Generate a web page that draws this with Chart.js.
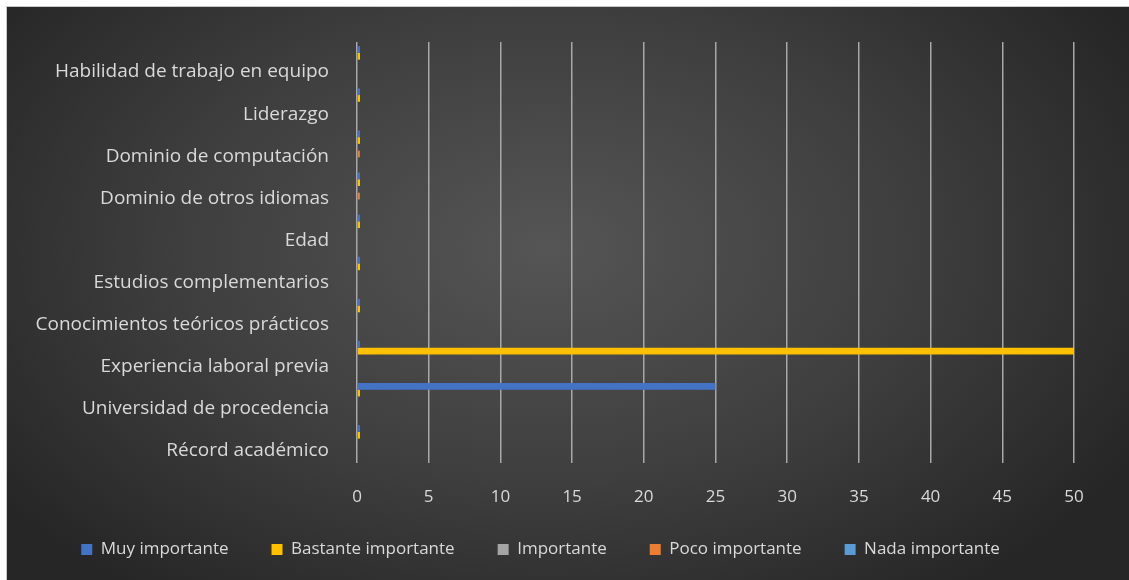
<!DOCTYPE html>
<html>
<head>
<meta charset="utf-8">
<script src="https://cdn.jsdelivr.net/npm/chart.js@4.4.0/dist/chart.umd.min.js"></script>
<style>
  html, body { margin: 0; padding: 0; background: #ffffff; }
  #frame {
    position: absolute; left: 6px; top: 6px; width: 1122px; height: 574px;
    border-left: 1px solid #c8c8c8; border-top: 1px solid #c8c8c8; border-right: 1px solid #c8c8c8;
    background: radial-gradient(ellipse 60% 75% at 48% 42%, #555555 0%, #3e3e3e 55%, #262626 100%);
  }
  #chart { display: block; }
</style>
</head>
<body>
<div id="frame"><canvas id="chart" width="1122" height="574"></canvas></div>
<script>
// ============ DATA ============ //
// categories, top to bottom as they appear
const categories = [
  "Habilidad de trabajo en equipo",
  "Liderazgo",
  "Dominio de computación",
  "Dominio de otros idiomas",
  "Edad",
  "Estudios complementarios",
  "Conocimientos teóricos prácticos",
  "Experiencia laboral previa",
  "Universidad de procedencia",
  "Récord académico"
];

const muyImportante      = [0, 0, 0, 0, 0, 0, 0, 0, 25, 0];
const bastanteImportante = [0, 0, 0, 0, 0, 0, 0, 50, 0, 0];
const importante         = [0, 0, 0, 0, 0, 0, 0, 0, 0, 0];
const pocoImportante     = [0, 0, 0.2, 0.2, 0, 0, 0, 0, 0, 0];
const nadaImportante     = [0, 0, 0, 0, 0, 0, 0, 0, 0, 0];

const xTicks = [0, 5, 10, 15, 20, 25, 30, 35, 40, 45, 50];

// ============ CHART ============ //
const textColor = "#d9d9d9";
const fontFamily = "'Open Sans', 'Noto Sans', sans-serif";

const canvas = document.getElementById("chart");

// pull the legend rows up a little so the x tick labels get room in their own box
const legendShift = {
  id: "legendShift",
  afterLayout(chart) {
    const lg = chart.legend;
    if (lg) {
      lg.top -= 11;
      lg.bottom -= 11;
    }
  }
};

let chart = new Chart(canvas, {
  type: "bar",
  data: {
    labels: categories,
    datasets: [
      { label: "Muy importante", data: muyImportante, backgroundColor: "#4472C4", minBarLength: 3 },
      { label: "Bastante importante", data: bastanteImportante, backgroundColor: "#FFC000", minBarLength: 3 },
      { label: "Importante", data: importante, backgroundColor: "#A5A5A5" },
      { label: "Poco importante", data: pocoImportante, backgroundColor: "#ED7D31" },
      { label: "Nada importante", data: nadaImportante, backgroundColor: "#5B9BD5" }
    ]
  },
  options: {
    indexAxis: "y",
    responsive: false,
    animation: false,
    categoryPercentage: 0.8,
    barPercentage: 1.0,
    layout: { padding: { left: 0, right: 55, top: 35, bottom: 2 } },
    scales: {
      x: {
        min: 0,
        max: 50,
        afterBuildTicks: (scale) => { scale.ticks = xTicks.map(v => ({ value: v })); },
        afterFit: (scale) => { scale.height = 46; },
        grid: { color: "#a8a8a8", lineWidth: 1.5, drawTicks: false },
        border: { display: false },
        ticks: { color: textColor, padding: 24, font: { family: fontFamily, size: 17 } }
      },
      y: {
        afterFit: (scale) => { scale.width = 350; },
        grid: { display: false },
        border: { display: false },
        ticks: { color: textColor, padding: 20, labelOffset: 9, font: { family: fontFamily, size: 19 } }
      }
    },
    plugins: {
      legend: {
        position: "bottom",
        labels: {
          color: textColor,
          boxWidth: 11,
          boxHeight: 11,
          padding: 43,
          font: { family: fontFamily, size: 17 }
        }
      },
      tooltip: { enabled: false }
    }
  },
  plugins: [legendShift]
});
</script>
</body>
</html>
